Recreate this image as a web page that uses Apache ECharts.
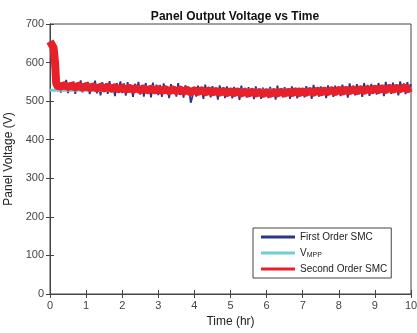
<!DOCTYPE html>
<html>
<head>
<meta charset="utf-8">
<script src="https://cdn.jsdelivr.net/npm/echarts@6/dist/echarts.min.js"></script>
<style>html,body{margin:0;padding:0;background:#fff}#c{width:417px;height:333px}</style>
</head>
<body>
<div id="c"></div>
<script>
var xTicks = [0,1,2,3,4,5,6,7,8,9,10];
var yTicks = [0,100,200,300,400,500,600,700];

var blueTime = [0,0.05,0.1,0.15,0.2,0.25,0.3,0.35,0.4,0.45,0.5,0.55,0.6,0.65,0.7,0.75,0.8,0.85,0.9,0.95,1,
1.05,1.1,1.15,1.2,1.25,1.3,1.35,1.4,1.45,1.5,1.55,1.6,1.65,1.7,1.75,1.8,1.85,1.9,1.95,2,
2.05,2.1,2.15,2.2,2.25,2.3,2.35,2.4,2.45,2.5,2.55,2.6,2.65,2.7,2.75,2.8,2.85,2.9,2.95,3,
3.05,3.1,3.15,3.2,3.25,3.3,3.35,3.4,3.45,3.5,3.55,3.6,3.65,3.7,3.75,3.8,3.85,3.9,3.95,4,
4.05,4.1,4.15,4.2,4.25,4.3,4.35,4.4,4.45,4.5,4.55,4.6,4.65,4.7,4.75,4.8,4.85,4.9,4.95,5,
5.05,5.1,5.15,5.2,5.25,5.3,5.35,5.4,5.45,5.5,5.55,5.6,5.65,5.7,5.75,5.8,5.85,5.9,5.95,6,
6.05,6.1,6.15,6.2,6.25,6.3,6.35,6.4,6.45,6.5,6.55,6.6,6.65,6.7,6.75,6.8,6.85,6.9,6.95,7,
7.05,7.1,7.15,7.2,7.25,7.3,7.35,7.4,7.45,7.5,7.55,7.6,7.65,7.7,7.75,7.8,7.85,7.9,7.95,8,
8.05,8.1,8.15,8.2,8.25,8.3,8.35,8.4,8.45,8.5,8.55,8.6,8.65,8.7,8.75,8.8,8.85,8.9,8.95,9,
9.05,9.1,9.15,9.2,9.25,9.3,9.35,9.4,9.45,9.5,9.55,9.6,9.65,9.7,9.75,9.8,9.85,9.9,9.95,10];
var firstOrder = [655,650,635,590,545,
552,522,545,530,555,521,548,533,551,519,543,528,554,523,546,531,
550,518,544,531,553,520,541,515,549,527,546,519,552,524,540,513,547,529,551,521,
546,514,549,523,538,511,545,527,550,517,542,512,547,524,536,510,548,520,543,516,
542,511,546,519,535,508,544,523,539,512,547,516,534,509,541,521,531,496,514,536,
512,540,517,534,506,543,520,537,510,539,515,532,504,541,519,536,508,538,516,533,
507,537,514,532,503,540,518,534,509,536,512,531,505,538,517,533,506,535,513,530,
508,537,515,533,504,540,517,532,510,536,513,531,506,538,518,534,507,535,514,533,
510,539,517,534,506,542,519,536,512,538,515,533,508,541,520,537,511,540,516,535,
513,543,520,538,509,546,522,540,515,544,518,537,511,547,524,542,514,545,519,539,
517,547,524,542,513,550,526,544,519,548,522,541,515,551,528,546,518,549,523,544];

var redTime = [0,0.05,0.1,0.14,0.17,0.2,0.3,0.4,0.5,0.6,0.7,0.8,0.9,1,
1.1,1.2,1.3,1.4,1.5,1.6,1.7,1.8,1.9,2,2.1,2.2,2.3,2.4,2.5,2.6,2.7,2.8,2.9,3,
3.1,3.2,3.3,3.4,3.5,3.6,3.7,3.8,3.9,4,4.1,4.2,4.3,4.4,4.5,4.6,4.7,4.8,4.9,5,
5.1,5.2,5.3,5.4,5.5,5.6,5.7,5.8,5.9,6,6.1,6.2,6.3,6.4,6.5,6.6,6.7,6.8,6.9,7,
7.1,7.2,7.3,7.4,7.5,7.6,7.7,7.8,7.9,8,8.1,8.2,8.3,8.4,8.5,8.6,8.7,8.8,8.9,9,
9.1,9.2,9.3,9.4,9.5,9.6,9.7,9.8,9.9,10];
var secondOrder = [655,650,638,600,548,540,
538,541,537,540,536,540,535,539,
534,538,533,537,533,537,532,536,531,535,
530,534,530,533,529,533,528,532,528,531,
527,531,526,530,526,530,525,529,523,528,
524,528,523,527,523,526,522,526,521,525,
521,525,520,524,520,524,520,523,519,523,
519,523,520,524,520,524,521,525,521,525,
522,526,522,527,523,527,524,528,524,529,
525,529,526,530,526,531,527,531,528,532,
529,533,529,534,530,534,531,535,531,535];

var vmppTime = [0,10];
var vmpp = [528,528];

function pairs(t, v){ return t.map(function(x,i){ return [x, v[i]]; }); }

var chart = echarts.init(document.getElementById('c'), null, {renderer:'canvas'});
var font = 'Liberation Sans, Arial, sans-serif';
var axisCol = '#444';
chart.setOption({
  animation:false,
  backgroundColor:'#fff',
  title:{text:'Panel Output Voltage vs Time', left:230, top:6, textAlign:'center',
    textStyle:{fontSize:12, fontWeight:'bold', color:'#111', fontFamily:font}},
  grid:{left:50, right:6, top:24, bottom:39, show:true, borderColor:axisCol, borderWidth:1,
    backgroundColor:'#fff', containLabel:false, outerBoundsMode:'none'},
  legend:{
    orient:'vertical', left:253, top:228, itemWidth:34, itemHeight:3, itemGap:4,
    icon:'rect', padding:[3,4,3,8], borderColor:'#444', borderWidth:1, backgroundColor:'#fff',
    textStyle:{fontSize:10, color:'#222', fontFamily:font, lineHeight:12,
      rich:{sub:{fontSize:7, verticalAlign:'bottom', padding:[4,0,0,0], fontFamily:font, color:'#222'}}},
    formatter:function(n){ return n==='V_MPP' ? 'V{sub|MPP}' : n; },
    data:['First Order SMC','V_MPP','Second Order SMC']
  },
  xAxis:[{
    type:'value', min:xTicks[0], max:xTicks[xTicks.length-1], interval:1,
    name:'Time (hr)', nameLocation:'middle', nameGap:22,
    nameTextStyle:{fontSize:12, color:'#222', fontFamily:font},
    axisLine:{show:true, lineStyle:{color:axisCol}},
    axisTick:{show:true, inside:true, length:4, lineStyle:{color:axisCol}},
    axisLabel:{fontSize:11, color:'#444', fontFamily:font, margin:6},
    splitLine:{show:false}
  },{
    type:'value', position:'top', min:0, max:10, interval:1,
    axisLine:{show:true, lineStyle:{color:axisCol}},
    axisTick:{show:true, inside:true, length:4, lineStyle:{color:axisCol}},
    axisLabel:{show:false}, splitLine:{show:false}
  }],
  yAxis:[{
    type:'value', min:yTicks[0], max:yTicks[yTicks.length-1], interval:100,
    name:'Panel Voltage (V)', nameLocation:'middle', nameGap:30,
    nameTextStyle:{fontSize:12, color:'#222', fontFamily:font},
    axisLine:{show:true, lineStyle:{color:axisCol}},
    axisTick:{show:true, inside:true, length:4, lineStyle:{color:axisCol}},
    axisLabel:{fontSize:11, color:'#444', fontFamily:font, margin:6},
    splitLine:{show:false}
  },{
    type:'value', position:'right', min:0, max:700, interval:100,
    axisLine:{show:true, lineStyle:{color:axisCol}},
    axisTick:{show:true, inside:true, length:4, lineStyle:{color:axisCol}},
    axisLabel:{show:false}, splitLine:{show:false}
  }],
  series:[
    {name:'First Order SMC', type:'line', data:pairs(blueTime, firstOrder), showSymbol:false, symbol:'none',
      lineStyle:{color:'#27378a', width:1.8}, itemStyle:{color:'#27378a'}},
    {name:'V_MPP', type:'line', data:pairs(vmppTime, vmpp), showSymbol:false, symbol:'none',
      lineStyle:{color:'#72ccd4', width:3}, itemStyle:{color:'#72ccd4'}},
    {name:'Second Order SMC', type:'line', data:pairs(redTime, secondOrder), showSymbol:false, symbol:'none',
      lineStyle:{color:'#e8202a', width:8, join:'round'}, itemStyle:{color:'#e8202a'}}
  ]
});
</script>
</body>
</html>
